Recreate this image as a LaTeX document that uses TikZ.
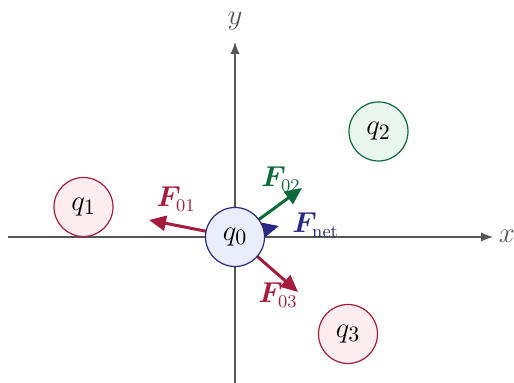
\documentclass[tikz,border=0pt]{standalone}
\usepackage{amsmath}
\usepackage{bm}
\usetikzlibrary{arrows.meta}
\definecolor{axisgray}{HTML}{555555}
\definecolor{crim}{HTML}{A51D3C}
\definecolor{crimfill}{HTML}{FDEDF1}
\definecolor{grn}{HTML}{0B6B3B}
\definecolor{grnfill}{HTML}{E9F6EE}
\definecolor{navy}{HTML}{2C2A80}
\definecolor{bluefill}{HTML}{E8EEFB}
\begin{document}
\begin{tikzpicture}[x=0.5pt,y=0.5pt,
  axis/.style={axisgray, line width=0.6pt, -{Latex[length=6pt,width=4.6pt]}},
  axlabel/.style={text=axisgray, inner sep=0pt, font=\fontsize{15}{18}\selectfont},
  charge/.style={circle, minimum size=29.5pt, inner sep=0pt, line width=0.6pt, font=\fontsize{15}{18}\selectfont},
  force/.style={line width=1.5pt, -{Triangle[length=8.5pt,width=7.5pt]}},
  flabel/.style={anchor=base west, inner sep=0pt, font=\fontsize{13.5}{16}\selectfont},
]
\useasboundingbox (-235,-146) rectangle (279,237);
% axes
\coordinate (xs) at (-227,0);
\coordinate (xe) at (258,0);
\coordinate (ys) at (0,-146);
\coordinate (ye) at (0,195);
\draw[axis] (xs) -- (xe);
\draw[axis] (ys) -- (ye);
\node[axlabel] (xl) at (272,1) {$x$};
\node[axlabel] (yl) at (0,216) {$y$};
% force tips
\coordinate (o) at (0,0);
\coordinate (t1) at (-86,17);
\coordinate (t2) at (67,49);
\coordinate (t3) at (63,-55);
\coordinate (tn) at (44,11);
\draw[force, crim] (o) -- (t1);
\draw[force, grn] (o) -- (t2);
\draw[force, crim] (o) -- (t3);
\draw[force, navy] (o) -- (tn);
% charges
\node[charge, draw=navy, fill=bluefill] (q0) at (o) {$q_0$};
\node[charge, draw=crim, fill=crimfill] (q1) at (-151.5,30) {$q_1$};
\node[charge, draw=grn, fill=grnfill] (q2) at (143.5,105.5) {$q_2$};
\node[charge, draw=crim, fill=crimfill] (q3) at (113,-97) {$q_3$};
% labels
\node[flabel, text=crim] (l1) at (-79,30) {$\bm{F}_{01}$};
\node[flabel, text=grn] (l2) at (26,50) {$\bm{F}_{02}$};
\node[flabel, text=navy] (ln) at (57,4) {$\bm{F}_{\mathrm{net}}$};
\node[flabel, text=crim] (l3) at (23,-66) {$\bm{F}_{03}$};
\end{tikzpicture}
\end{document}
